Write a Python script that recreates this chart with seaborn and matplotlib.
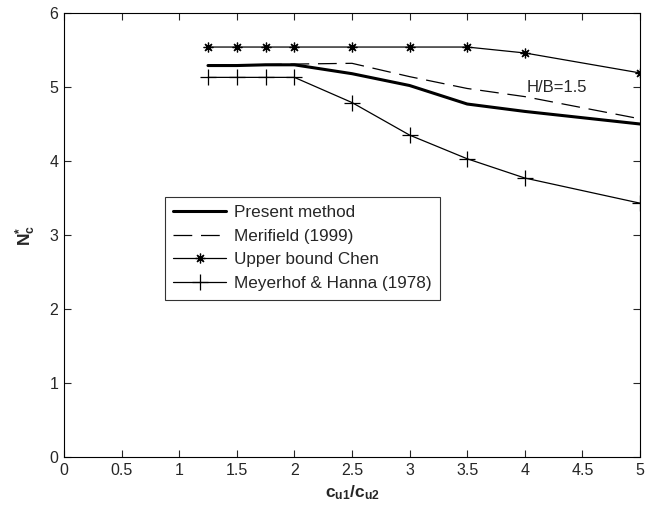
import numpy as np
import pandas as pd
import matplotlib
matplotlib.use("Agg")
import matplotlib.pyplot as plt
import seaborn as sns

# ─────────────────────────── data ────────────────────────────
x_present = [1.25, 1.5, 1.75, 2.0, 2.5, 3.0, 3.5, 4.0, 5.0]
y_present = [5.29, 5.29, 5.30, 5.30, 5.18, 5.02, 4.77, 4.67, 4.50]

x_merifield = [1.25, 2.0, 2.5, 3.0, 3.5, 4.0, 5.0]
y_merifield = [5.29, 5.31, 5.32, 5.14, 4.98, 4.87, 4.57]

x_chen = [1.25, 1.5, 1.75, 2.0, 2.5, 3.0, 3.5, 4.0, 5.0]
y_chen = [5.54, 5.54, 5.54, 5.54, 5.54, 5.54, 5.54, 5.46, 5.19]

x_meyerhof = [1.25, 1.5, 1.75, 2.0, 2.5, 3.0, 3.5, 4.0, 5.0]
y_meyerhof = [5.13, 5.13, 5.13, 5.13, 4.79, 4.35, 4.03, 3.77, 3.43]

x_ticks = [0, 0.5, 1, 1.5, 2, 2.5, 3, 3.5, 4, 4.5, 5]
x_tick_labels = ["0", "0.5", "1", "1.5", "2", "2.5", "3", "3.5", "4", "4.5", "5"]
y_ticks = [0, 1, 2, 3, 4, 5, 6]

# ─────────────────────────── style ───────────────────────────
sns.set_style("white")
plt.rcParams["font.family"] = ["Liberation Sans", "DejaVu Sans"]
plt.rcParams["mathtext.fontset"] = "custom"
plt.rcParams["mathtext.rm"] = "Liberation Sans"
plt.rcParams["mathtext.it"] = "Liberation Sans"
plt.rcParams["mathtext.bf"] = "Liberation Sans:bold"

fig = plt.figure(figsize=(6.45, 5.13), dpi=100)
ax = fig.add_axes([64 / 645, 56 / 513, 576 / 645, 444 / 513])

df_present = pd.DataFrame({"x": x_present, "y": y_present})
df_merifield = pd.DataFrame({"x": x_merifield, "y": y_merifield})
df_chen = pd.DataFrame({"x": x_chen, "y": y_chen})
df_meyerhof = pd.DataFrame({"x": x_meyerhof, "y": y_meyerhof})

sns.lineplot(data=df_present, x="x", y="y", ax=ax, color="black", lw=2.2,
             label="Present method")
sns.lineplot(data=df_merifield, x="x", y="y", ax=ax, color="black", lw=0.9,
             linestyle=(0, (15, 7)), label="Merifield (1999)")
sns.lineplot(data=df_chen, x="x", y="y", ax=ax, color="black", lw=0.9,
             marker=(8, 2, 0), markersize=7, markeredgewidth=0.9,
             markeredgecolor="black", label="Upper bound Chen")
sns.lineplot(data=df_meyerhof, x="x", y="y", ax=ax, color="black", lw=0.9,
             marker="+", markersize=11, markeredgewidth=0.9,
             markeredgecolor="black", label="Meyerhof & Hanna (1978)")

ax.text(4.02, 5.0, "H/B=1.5", fontsize=12, ha="left", va="center")

ax.set_xlim(0, 5)
ax.set_ylim(0, 6)
ax.set_xticks(x_ticks)
ax.set_xticklabels(x_tick_labels)
ax.set_yticks(y_ticks)
ax.tick_params(direction="in", length=5, width=0.8, labelsize=11.5,
               top=True, right=True, bottom=True, left=True, pad=4)
for s in ax.spines.values():
    s.set_linewidth(0.8)
    s.set_color("black")

ax.set_xlabel(r"$\mathbf{c_{u1}/c_{u2}}$", fontsize=12.5, labelpad=4)
ax.set_ylabel(r"$\mathbf{N^{*}_{c}}$", fontsize=12.5, labelpad=8)

leg = ax.legend(loc="upper left", bbox_to_anchor=(0.175, 0.586), frameon=True,
                fancybox=False, edgecolor="black", fontsize=12.3,
                handlelength=3.1, handletextpad=0.45, borderpad=0.5,
                labelspacing=0.5, borderaxespad=0)
leg.get_frame().set_linewidth(0.8)

plt.savefig("out.png", dpi=100)
plt.close()
